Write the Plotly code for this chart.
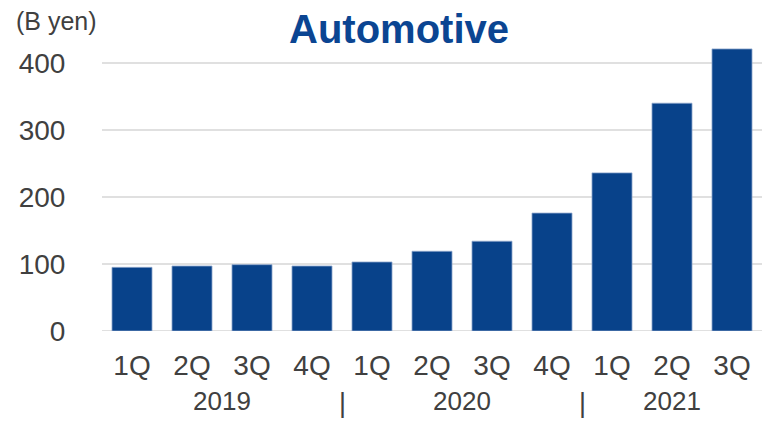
import plotly.graph_objects as go

quarters = ["1Q", "2Q", "3Q", "4Q", "1Q", "2Q", "3Q", "4Q", "1Q", "2Q", "3Q"]
years = ["2019", "2019", "2019", "2019", "2020", "2020", "2020", "2020", "2021", "2021", "2021"]
values = [95, 97, 99, 97, 103, 119, 134, 176, 236, 340, 421]
yticks = [0, 100, 200, 300, 400]

FONT = "Liberation Sans, Arial, sans-serif"
BAR = "#08428A"
TXT = "#404040"

L, T, B_, H = 102, 46, 106, 437
PH = H - T - B_
PW = 660

def py(pix):  # pixel y -> paper
    return (H - B_ - pix) / PH

def px(pix):  # pixel x -> paper
    return (pix - L) / PW

xs = list(range(len(values)))

fig = go.Figure()
fig.add_trace(go.Bar(
    x=xs, y=values,
    marker=dict(color=BAR, line=dict(color="#8EA6CC", width=0.8)),
    width=0.667,
    hoverinfo="skip",
))

# year labels and separators
year_order = []
for y in years:
    if y not in year_order:
        year_order.append(y)
for i, yr in enumerate(year_order):
    idx = [k for k, v in enumerate(years) if v == yr]
    fig.add_annotation(x=sum(idx) / len(idx), y=py(401), xref="x", yref="paper",
                       xanchor="center", yanchor="middle",
                       text=yr, showarrow=False,
                       font=dict(family=FONT, size=26, color=TXT))
    if i < len(year_order) - 1:
        fig.add_annotation(x=idx[-1] + 0.5, y=py(403), xref="x", yref="paper",
                           xanchor="center", yanchor="middle",
                           text="|", showarrow=False,
                           font=dict(family=FONT, size=27, color=TXT))

fig.add_annotation(xref="paper", yref="paper", x=px(399), y=py(29),
                   xanchor="center", yanchor="middle",
                   text="<b>Automotive</b>", showarrow=False,
                   font=dict(family=FONT, size=40, color="#0B4592"))
fig.add_annotation(xref="paper", yref="paper", x=px(56), y=py(21),
                   xanchor="center", yanchor="middle",
                   text="(B yen)", showarrow=False,
                   font=dict(family=FONT, size=25, color=TXT))

fig.update_layout(
    width=768, height=437,
    margin=dict(l=L, r=768 - L - PW, t=T, b=B_),
    paper_bgcolor="white", plot_bgcolor="white",
    showlegend=False,
    font=dict(family=FONT, color=TXT),
    xaxis=dict(
        tickmode="array", tickvals=xs, ticktext=quarters,
        range=[-0.5, len(values) - 0.5],
        showgrid=False, zeroline=False, showline=False,
        tickfont=dict(family=FONT, size=28, color=TXT),
        ticks="outside", ticklen=9, tickcolor="rgba(0,0,0,0)",
    ),
    yaxis=dict(
        tickmode="array", tickvals=yticks,
        range=[0, 425.4],
        showgrid=True, gridcolor="#E0E0E0", gridwidth=2,
        zeroline=False, showline=False,
        tickfont=dict(family=FONT, size=28, color=TXT),
        ticks="outside", ticklen=30, tickcolor="rgba(0,0,0,0)",
    ),
)
fig.add_shape(type="line", xref="paper", yref="y", x0=0, x1=1, y0=0, y1=0,
              line=dict(color="#E0E0E0", width=2), layer="below")

fig.write_html("out.html")
